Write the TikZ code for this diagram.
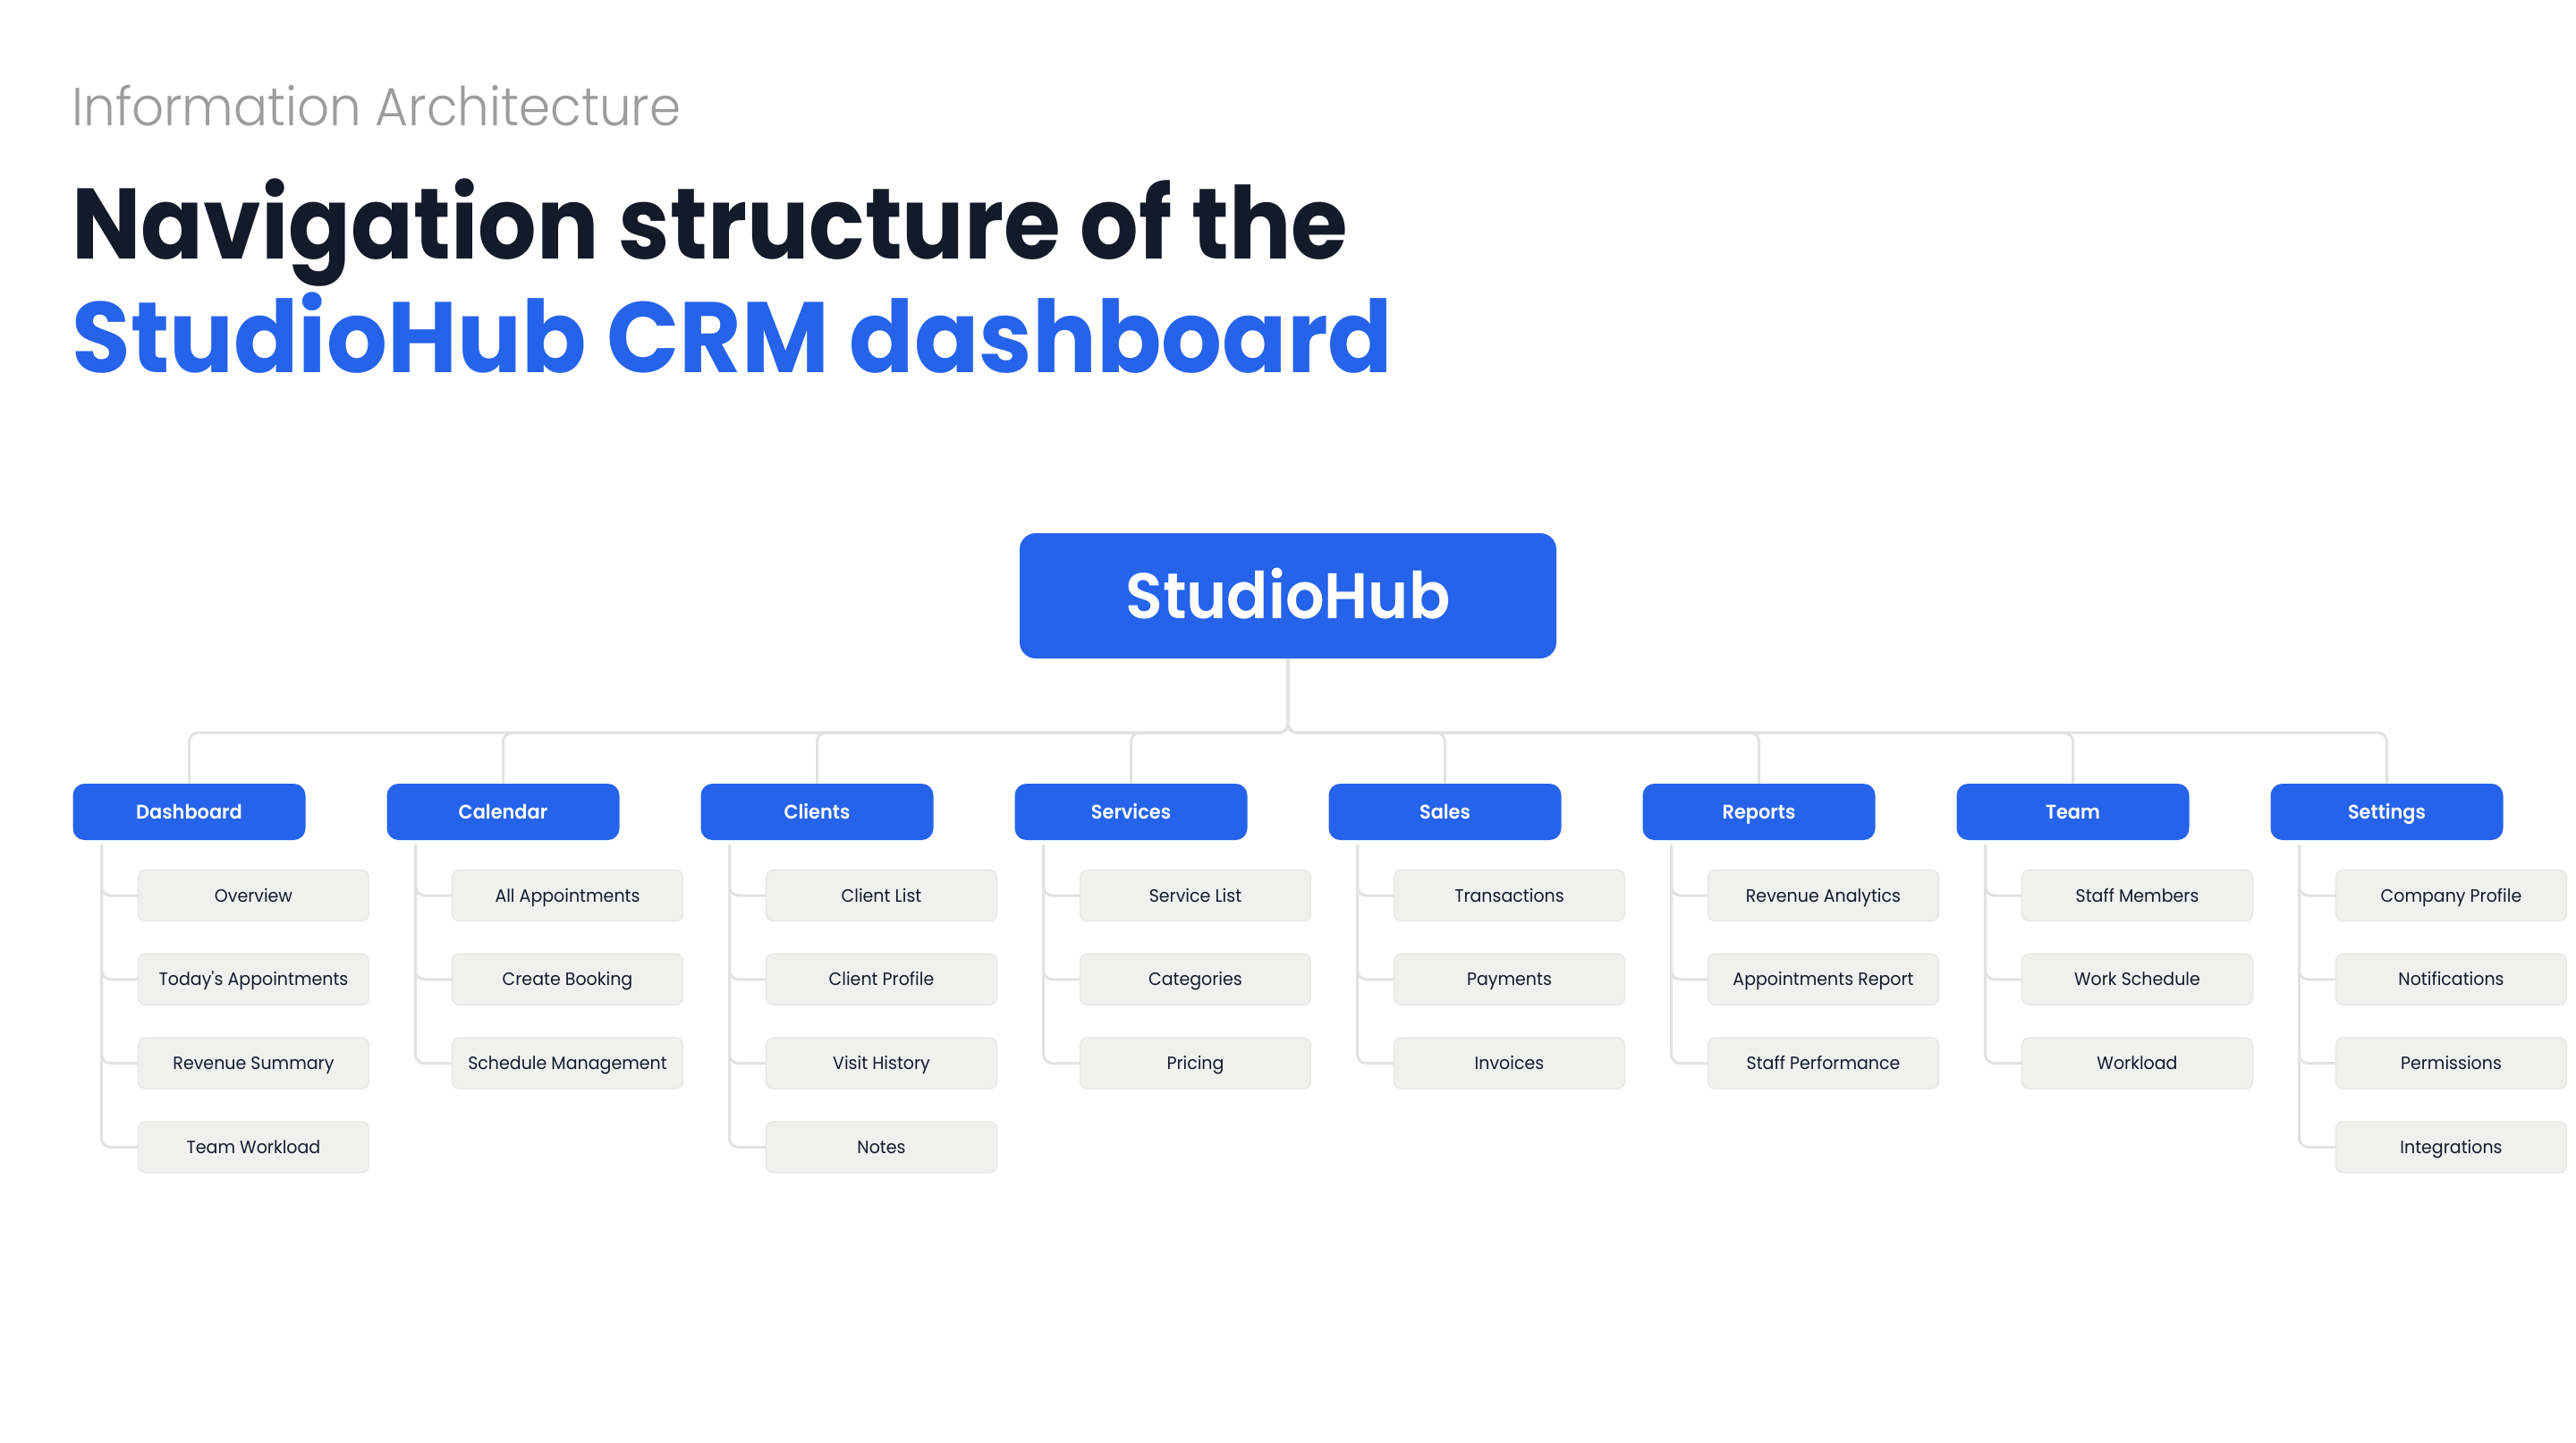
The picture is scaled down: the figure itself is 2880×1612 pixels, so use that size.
\documentclass[tikz,border=0pt]{standalone}
\usepackage{fontspec}
\setmainfont{Poppins}[FakeStretch=0.95]
\newfontfamily\poplight{Poppins Light}[FakeStretch=0.94]
\newfontfamily\popsemi{Poppins SemiBold}[FakeStretch=0.95]
\newfontfamily\popbold{Poppins Bold}[FakeStretch=0.92]
\newfontfamily\popboldwide{Poppins Bold}[FakeStretch=0.953]
\definecolor{hubblue}{HTML}{2563EB}
\definecolor{hubnavy}{HTML}{131A2A}
\definecolor{hubgray}{HTML}{9C9C9C}
\definecolor{pagefill}{HTML}{F0F0EF}
\definecolor{pageline}{HTML}{E6E6E4}
\definecolor{linkgray}{HTML}{E2E2E0}

\begin{document}
\begin{tikzpicture}[x=0.5pt, y=-0.5pt]
    \tikzset{TitleStyle/.style={anchor=base west, inner sep=0pt}}
    \tikzset{RootStyle/.style={fill=hubblue, rounded corners=9pt, minimum width=300pt,
        minimum height=70pt, inner sep=0pt, text height=25.2pt, text depth=0pt,
        text=white, font=\popsemi\fontsize{36}{36}\selectfont}}
    \tikzset{GroupStyle/.style={fill=hubblue, rounded corners=6.5pt, minimum width=130pt,
        minimum height=31.5pt, inner sep=0pt, text height=7.7pt, text depth=0pt,
        text=white, font=\popsemi\fontsize{11}{11}\selectfont}}
    \tikzset{PageStyle/.style={fill=pagefill, draw=pageline, line width=0.6pt, rounded corners=4pt,
        minimum width=129pt, minimum height=28.5pt, inner sep=0pt, text height=7pt, text depth=0pt,
        text=hubnavy, font=\fontsize{10}{10}\selectfont}}
    \tikzset{Link/.style={draw=linkgray, line width=1.5pt, rounded corners=5pt}}

    \fill[white] (0,0) rectangle (2880,1612);
    \useasboundingbox (0,0) rectangle (2880,1612);

    % heading
    \node[TitleStyle, text=hubgray, font=\poplight\fontsize{30}{30}\selectfont] (kicker) at (80,140) {Information Architecture};
    \node[TitleStyle, text=hubnavy, font=\popbold\fontsize{56}{56}\selectfont] (title) at (80,289) {Navigation structure of the};
    \node[TitleStyle, text=hubblue, font=\popboldwide\fontsize{56}{56}\selectfont] (subtitle) at (80,416) {StudioHub CRM dashboard};

    % root and sections
    \node[RootStyle] (hub) at (1440,666) {StudioHub};
    \coordinate (bus) at (1440,819);

    \node[GroupStyle] (dash) at (211.5,907.5) {Dashboard};
    \node[GroupStyle] (cal)  at (562.5,907.5) {Calendar};
    \node[GroupStyle] (cli)  at (913.5,907.5) {Clients};
    \node[GroupStyle] (svc)  at (1264.5,907.5) {Services};
    \node[GroupStyle] (sal)  at (1615.5,907.5) {Sales};
    \node[GroupStyle] (rep)  at (1966.5,907.5) {Reports};
    \node[GroupStyle] (team) at (2317.5,907.5) {Team};
    \node[GroupStyle] (set)  at (2668.5,907.5) {Settings};

    \draw[Link] (hub.south) -- (hub.south |- bus) -| (dash.north);
    \draw[Link] (hub.south) -- (hub.south |- bus) -| (cal.north);
    \draw[Link] (hub.south) -- (hub.south |- bus) -| (cli.north);
    \draw[Link] (hub.south) -- (hub.south |- bus) -| (svc.north);
    \draw[Link] (hub.south) -- (hub.south |- bus) -| (sal.north);
    \draw[Link] (hub.south) -- (hub.south |- bus) -| (rep.north);
    \draw[Link] (hub.south) -- (hub.south |- bus) -| (team.north);
    \draw[Link] (hub.south) -- (hub.south |- bus) -| (set.north);

    % pages
    \node[PageStyle] (dash1) at (283.5,1001)   {Overview};
    \node[PageStyle] (dash2) at (283.5,1094.8) {Today\textquotesingle s Appointments};
    \node[PageStyle] (dash3) at (283.5,1188.5) {Revenue Summary};
    \node[PageStyle] (dash4) at (283.5,1282.3) {Team Workload};

    \node[PageStyle] (cal1) at (634.5,1001)   {All Appointments};
    \node[PageStyle] (cal2) at (634.5,1094.8) {Create Booking};
    \node[PageStyle] (cal3) at (634.5,1188.5) {Schedule Management};

    \node[PageStyle] (cli1) at (985.5,1001)   {Client List};
    \node[PageStyle] (cli2) at (985.5,1094.8) {Client Profile};
    \node[PageStyle] (cli3) at (985.5,1188.5) {Visit History};
    \node[PageStyle] (cli4) at (985.5,1282.3) {Notes};

    \node[PageStyle] (svc1) at (1336.5,1001)   {Service List};
    \node[PageStyle] (svc2) at (1336.5,1094.8) {Categories};
    \node[PageStyle] (svc3) at (1336.5,1188.5) {Pricing};

    \node[PageStyle] (sal1) at (1687.5,1001)   {Transactions};
    \node[PageStyle] (sal2) at (1687.5,1094.8) {Payments};
    \node[PageStyle] (sal3) at (1687.5,1188.5) {Invoices};

    \node[PageStyle] (rep1) at (2038.5,1001)   {Revenue Analytics};
    \node[PageStyle] (rep2) at (2038.5,1094.8) {Appointments Report};
    \node[PageStyle] (rep3) at (2038.5,1188.5) {Staff Performance};

    \node[PageStyle] (team1) at (2389.5,1001)   {Staff Members};
    \node[PageStyle] (team2) at (2389.5,1094.8) {Work Schedule};
    \node[PageStyle] (team3) at (2389.5,1188.5) {Workload};

    \node[PageStyle] (set1) at (2740.5,1001)   {Company Profile};
    \node[PageStyle] (set2) at (2740.5,1094.8) {Notifications};
    \node[PageStyle] (set3) at (2740.5,1188.5) {Permissions};
    \node[PageStyle] (set4) at (2740.5,1282.3) {Integrations};

    % trunks
    \coordinate (dashT) at (113.5,944);
    \coordinate (calT)  at (464.5,944);
    \coordinate (cliT)  at (815.5,944);
    \coordinate (svcT)  at (1166.5,944);
    \coordinate (salT)  at (1517.5,944);
    \coordinate (repT)  at (1868.5,944);
    \coordinate (teamT) at (2219.5,944);
    \coordinate (setT)  at (2570.5,944);

    \draw[Link] (dashT) |- (dash1.west);
    \draw[Link] (dashT) |- (dash2.west);
    \draw[Link] (dashT) |- (dash3.west);
    \draw[Link] (dashT) |- (dash4.west);

    \draw[Link] (calT) |- (cal1.west);
    \draw[Link] (calT) |- (cal2.west);
    \draw[Link] (calT) |- (cal3.west);

    \draw[Link] (cliT) |- (cli1.west);
    \draw[Link] (cliT) |- (cli2.west);
    \draw[Link] (cliT) |- (cli3.west);
    \draw[Link] (cliT) |- (cli4.west);

    \draw[Link] (svcT) |- (svc1.west);
    \draw[Link] (svcT) |- (svc2.west);
    \draw[Link] (svcT) |- (svc3.west);

    \draw[Link] (salT) |- (sal1.west);
    \draw[Link] (salT) |- (sal2.west);
    \draw[Link] (salT) |- (sal3.west);

    \draw[Link] (repT) |- (rep1.west);
    \draw[Link] (repT) |- (rep2.west);
    \draw[Link] (repT) |- (rep3.west);

    \draw[Link] (teamT) |- (team1.west);
    \draw[Link] (teamT) |- (team2.west);
    \draw[Link] (teamT) |- (team3.west);

    \draw[Link] (setT) |- (set1.west);
    \draw[Link] (setT) |- (set2.west);
    \draw[Link] (setT) |- (set3.west);
    \draw[Link] (setT) |- (set4.west);
\end{tikzpicture}
\end{document}
